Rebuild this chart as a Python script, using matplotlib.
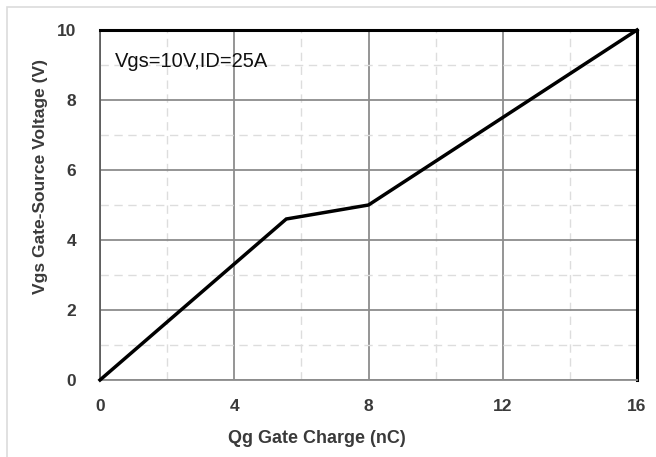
import matplotlib
matplotlib.use("Agg")
import matplotlib.pyplot as plt
from matplotlib.patches import Rectangle

qg = [0, 5.55, 8.0, 16.0]
vgs = [0, 4.6, 5.0, 10.0]
xticks = [0, 4, 8, 12, 16]
yticks = [0, 2, 4, 6, 8, 10]
annotation = "Vgs=10V,ID=25A"

plt.rcParams['font.family'] = ['Liberation Sans', 'DejaVu Sans']

fig = plt.figure(figsize=(6.56, 4.57), dpi=100)
W, H = 656, 457
# light outer frame
fig.patches.append(Rectangle((7 / W, -0.1), 1.2, 1 - 7 / H + 0.1, transform=fig.transFigure,
                             fill=False, edgecolor='#dcdcdc', linewidth=1.2))
ax = fig.add_axes([100 / W, 1 - 380 / H, 537 / W, 350 / H])

ax.plot(qg, vgs, color='black', linewidth=2.5, solid_joinstyle='miter', zorder=5, clip_on=False)

ax.set_xlim(0, 16)
ax.set_ylim(0, 10)
ax.set_xticks(xticks)
ax.set_yticks(yticks)
ax.set_xticks([2, 6, 10, 14], minor=True)
ax.set_yticks([1, 3, 5, 7, 9], minor=True)
ax.grid(True, which='major', color='#8c8c8c', linewidth=1.3, linestyle='-')
ax.grid(True, which='minor', color='#dddddd', linewidth=1.0, linestyle=(0, (6, 4)))
ax.set_axisbelow(True)
ax.tick_params(which='both', length=0)
ax.tick_params(axis='x', pad=14)
ax.tick_params(axis='y', pad=17)
for lab in ax.get_xticklabels() + ax.get_yticklabels():
    lab.set_fontweight('bold')
    lab.set_fontsize(12.5)
    lab.set_color('#3a3a3a')

ax.spines['top'].set_color('black')
ax.spines['top'].set_linewidth(2.2)
ax.spines['right'].set_color('black')
ax.spines['right'].set_linewidth(2.2)
ax.spines['left'].set_color('#555555')
ax.spines['left'].set_linewidth(1.2)
ax.spines['bottom'].set_color('#8c8c8c')
ax.spines['bottom'].set_linewidth(1.3)

ax.set_xlabel('Qg Gate Charge (nC)', fontsize=13, fontweight='bold', color='#3a3a3a')
ax.set_ylabel('Vgs Gate-Source Voltage (V)', fontsize=12.5, fontweight='bold', color='#3a3a3a')
ax.xaxis.set_label_coords((317 - 100) / 537, -(430 - 380) / 350)
ax.yaxis.set_label_coords(-(100 - 48) / 537, (380 - 176) / 350)

ax.text(0.45, 9.1, annotation, fontsize=14.5, color='#111111', va='center', ha='left')

fig.savefig('out.png', dpi=100)
